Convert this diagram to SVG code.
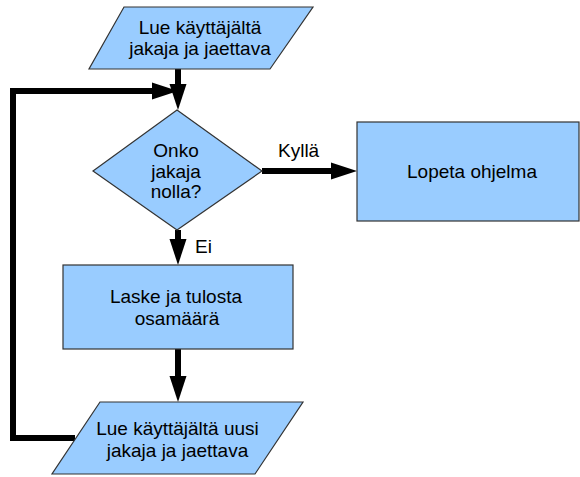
<svg xmlns="http://www.w3.org/2000/svg" width="580" height="477" viewBox="0 0 580 477">
  <style>
    .shape { fill: #99ccff; stroke: #333333; stroke-width: 1.2; }
    .label { font-family: "Liberation Sans", Arial, sans-serif; font-size: 19px; fill: #000000; text-anchor: middle; }
    .edge-label { font-family: "Liberation Sans", Arial, sans-serif; font-size: 19px; fill: #000000; }
    .flow { fill: none; stroke: #000000; stroke-width: 6; stroke-linejoin: miter; marker-end: url(#arrow); }
  </style>
  <defs>
    <marker id="arrow" markerUnits="userSpaceOnUse" markerWidth="27" markerHeight="18" refX="0" refY="8.5" orient="auto" overflow="visible">
      <path d="M0,0 L26,8.5 L0,17 Z" fill="#000000"/>
    </marker>
  </defs>

  <rect width="580" height="477" fill="#ffffff"/>

  <!-- connectors -->
  <g id="connectors">
    <path class="flow" d="M178,69 V84"/>
    <path class="flow" d="M75,438 H13 V91 H152"/>
    <path class="flow" d="M262,171 H331"/>
    <path class="flow" d="M178,230 V239"/>
    <path class="flow" d="M178,349 V376"/>
  </g>

  <!-- nodes -->
  <g id="input-start">
    <polygon class="shape" points="124,7 313,7 270,69 89,69"/>
    <text class="label" x="200" y="33.5">Lue käyttäjältä</text>
    <text class="label" x="200" y="54.5">jakaja ja jaettava</text>
  </g>

  <g id="decision">
    <polygon class="shape" points="177,110 262,171 177,230 93,171"/>
    <text class="label" x="176" y="157">Onko</text>
    <text class="label" x="176" y="177.5">jakaja</text>
    <text class="label" x="176" y="198">nolla?</text>
  </g>

  <g id="stop">
    <rect class="shape" x="357" y="122" width="222" height="99"/>
    <text class="label" x="472" y="178">Lopeta ohjelma</text>
  </g>

  <g id="compute">
    <rect class="shape" x="63" y="265" width="230" height="84"/>
    <text class="label" x="176" y="303">Laske ja tulosta</text>
    <text class="label" x="177" y="324.5">osamäärä</text>
  </g>

  <g id="input-again">
    <polygon class="shape" points="100,402 303,402 255,474 52,474"/>
    <text class="label" x="177.5" y="434.5">Lue käyttäjältä uusi</text>
    <text class="label" x="177.5" y="456.5">jakaja ja jaettava</text>
  </g>

  <!-- edge labels -->
  <g id="edge-labels">
    <text class="edge-label" x="278" y="157">Kyllä</text>
    <text class="edge-label" x="195" y="253">Ei</text>
  </g>
</svg>
